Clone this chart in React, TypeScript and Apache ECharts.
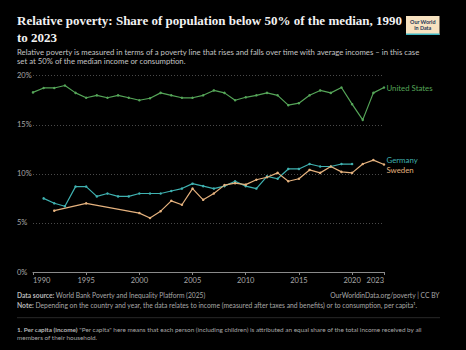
import React, { useEffect, useRef } from "react";
import * as echarts from "echarts";

const usYears = [1990, 1991, 1992, 1993, 1994, 1995, 1996, 1997, 1998, 1999, 2000, 2001, 2002, 2003, 2004, 2005, 2006, 2007, 2008, 2009, 2010, 2011, 2012, 2013, 2014, 2015, 2016, 2017, 2018, 2019, 2020, 2021, 2022, 2023];
const usValues = [18.3, 18.75, 18.75, 19.0, 18.25, 17.75, 18.0, 17.75, 18.0, 17.75, 17.5, 17.7, 18.25, 18.0, 17.75, 17.75, 18.0, 18.5, 18.25, 17.5, 17.8, 18.0, 18.25, 18.0, 17.0, 17.2, 18.0, 18.5, 18.25, 18.8, 17.1, 15.5, 18.25, 18.8];

const deYears = [1991, 1992, 1993, 1994, 1995, 1996, 1997, 1998, 1999, 2000, 2001, 2002, 2003, 2004, 2005, 2006, 2007, 2008, 2009, 2010, 2011, 2012, 2013, 2014, 2015, 2016, 2017, 2018, 2019, 2020];
const deValues = [7.5, 7.0, 6.7, 8.7, 8.7, 7.7, 8.0, 7.7, 7.7, 8.0, 8.0, 8.0, 8.25, 8.5, 9.0, 8.75, 8.5, 8.75, 9.25, 8.75, 8.5, 9.75, 9.5, 10.5, 10.5, 11.0, 10.75, 10.75, 11.0, 11.0];

const seYears = [1992, 1995, 2000, 2001, 2002, 2003, 2004, 2005, 2006, 2007, 2008, 2009, 2010, 2011, 2012, 2013, 2014, 2015, 2016, 2017, 2018, 2019, 2020, 2021, 2022, 2023];
const seValues = [6.25, 7.0, 6.0, 5.5, 6.2, 7.25, 6.85, 8.5, 7.35, 8.0, 8.85, 9.05, 8.9, 9.4, 9.65, 10.1, 9.25, 9.5, 10.4, 10.1, 10.75, 10.2, 10.1, 11.0, 11.4, 10.95];

const xTicks = [1990, 1995, 2000, 2005, 2010, 2015, 2020, 2023];
const yTicks = [0, 5, 10, 15, 20];

const US_COLOR = "#55a558";
const DE_COLOR = "#3fb1b0";
const SE_COLOR = "#e5b27e";

const FONT = "Lato, 'Noto Sans', sans-serif";

export default function App() {
  const ref = useRef<HTMLDivElement>(null);
  useEffect(() => {
    if (!ref.current) return;
    const chart = echarts.init(ref.current, null, { renderer: "svg" });
    const mk = (years: number[], vals: number[]) => years.map((y, i) => [y, vals[i]]);
    const line = (name: string, data: number[][], color: string) => ({
      name,
      type: "line",
      data,
      symbol: "circle",
      symbolSize: 2.5,
      showSymbol: true,
      lineStyle: { width: 1.2, color },
      itemStyle: { color },
      emphasis: { disabled: true },
    });
    chart.setOption({
      animation: false,
      backgroundColor: "#000000",
      grid: { left: 33, right: 82, top: 75.7, bottom: 78, containLabel: false },
      xAxis: {
        type: "value",
        min: 1990,
        max: 2023,
        axisLine: { show: true, lineStyle: { color: "#8a8a8a", width: 1 } },
        axisTick: { show: true, length: 3, customValues: xTicks, lineStyle: { color: "#8a8a8a" } },
        axisLabel: {
          customValues: xTicks,
          formatter: (v: number) => String(v),
          alignMinLabel: "left",
          alignMaxLabel: "right",
          margin: 4,
          color: "#a8a8a8",
          fontSize: 7.5,
          fontFamily: FONT,
        },
        splitLine: { show: false },
      },
      yAxis: {
        type: "value",
        min: 0,
        max: 20,
        interval: 5,
        axisLine: { show: false },
        axisTick: { show: false },
        axisLabel: {
          customValues: yTicks,
          formatter: "{value}%",
          align: "left",
          margin: 16,
          color: "#a8a8a8",
          fontSize: 7.5,
          fontFamily: FONT,
        },
        splitLine: { show: true, lineStyle: { color: "#4a4a4a", type: [1, 2], width: 1 } },
      },
      series: [
        line("United States", mk(usYears, usValues), US_COLOR),
        line("Germany", mk(deYears, deValues), DE_COLOR),
        line("Sweden", mk(seYears, seValues), SE_COLOR),
      ],
      graphic: [
        {
          type: "text",
          left: 17,
          top: 12,
          style: {
            text: "Relative poverty: Share of population below 50% of the median, 1990\nto 2023",
            fill: "#f2f2f2",
            font: "600 13px 'Liberation Serif', serif",
            lineHeight: 17,
          },
        },
        {
          type: "text",
          left: 17,
          top: 47,
          style: {
            text: "Relative poverty is measured in terms of a poverty line that rises and falls over time with average incomes – in this case\nset at 50% of the median income or consumption.",
            fill: "#c4c4c4",
            font: "7.75px Lato, sans-serif",
            lineHeight: 9.3,
          },
        },
        {
          type: "group",
          left: 406,
          top: 16,
          children: [
            { type: "rect", shape: { x: 0, y: 0, width: 33.5, height: 19 }, style: { fill: "#f7e2c0" } },
            { type: "rect", shape: { x: 0, y: 17.6, width: 33.5, height: 1.4 }, style: { fill: "#3db6c4" } },
            {
              type: "text",
              x: 16.75,
              y: 8.5,
              style: {
                text: "Our World\nin Data",
                fill: "#1d3557",
                font: "bold 5.4px Lato, sans-serif",
                lineHeight: 6,
                textAlign: "center",
                textVerticalAlign: "middle",
              },
            },
          ],
        },
        {
          type: "text",
          x: 386.5,
          y: 88.3,
          style: { text: "United States", fill: US_COLOR, font: "7.8px Lato, sans-serif", textVerticalAlign: "middle" },
        },
        {
          type: "text",
          x: 386.5,
          y: 160,
          style: { text: "Germany", fill: DE_COLOR, font: "7.8px Lato, sans-serif", textVerticalAlign: "middle" },
        },
        {
          type: "text",
          x: 386.5,
          y: 169.5,
          style: { text: "Sweden", fill: SE_COLOR, font: "7.8px Lato, sans-serif", textVerticalAlign: "middle" },
        },
        {
          type: "text",
          x: 17,
          y: 295,
          style: {
            text: "{b|Data source:} World Bank Poverty and Inequality Platform (2025)",
            fill: "#a8a8a8",
            font: "6.7px Lato, sans-serif",
            textVerticalAlign: "middle",
            rich: { b: { fontWeight: "bold", fontSize: 6.7, fontFamily: "Lato", fill: "#b8b8b8" } },
          },
        },
        {
          type: "text",
          x: 439.5,
          y: 295,
          style: {
            text: "OurWorldinData.org/poverty | CC BY",
            fill: "#a8a8a8",
            font: "6.7px Lato, sans-serif",
            textAlign: "right",
            textVerticalAlign: "middle",
          },
        },
        {
          type: "text",
          x: 17,
          y: 305,
          style: {
            text: "{b|Note:} Depending on the country and year, the data relates to income (measured after taxes and benefits) or to consumption, per capita¹.",
            fill: "#a8a8a8",
            font: "6.75px Lato, sans-serif",
            textVerticalAlign: "middle",
            rich: { b: { fontWeight: "bold", fontSize: 6.75, fontFamily: "Lato", fill: "#b8b8b8" } },
          },
        },
        {
          type: "line",
          shape: { x1: 17, y1: 317.7, x2: 440, y2: 317.7 },
          style: { stroke: "#333333", lineWidth: 0.8 },
        },
        {
          type: "text",
          x: 17,
          y: 325.5,
          style: {
            text: "{b|1. Per capita (income)} \"Per capita\" here means that each person (including children) is attributed an equal share of the total income received by all\nmembers of their household.",
            fill: "#a8a8a8",
            font: "6.4px Lato, sans-serif",
            lineHeight: 8,
            textVerticalAlign: "top",
            rich: { b: { fontWeight: "bold", fontSize: 6.4, fontFamily: "Lato", fill: "#b8b8b8" } },
          },
        },
      ],
    });
    return () => chart.dispose();
  }, []);
  return (
    <div
      ref={ref}
      style={{ position: "fixed", left: 0, top: 0, width: 466, height: 350, background: "#000" }}
    />
  );
}
